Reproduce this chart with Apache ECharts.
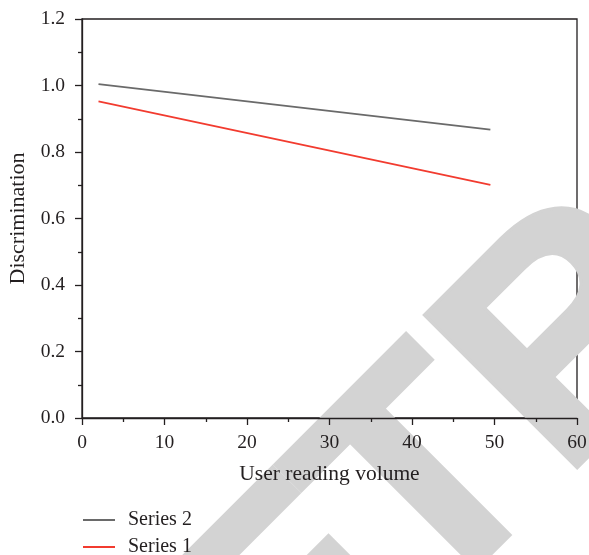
<!DOCTYPE html>
<html>
<head>
<meta charset="utf-8">
<script src="https://cdn.jsdelivr.net/npm/echarts@6/dist/echarts.min.js"></script>
<style>
html,body{margin:0;padding:0;background:#fff;}
#chart{width:589px;height:555px;}
</style>
</head>
<body>
<div id="chart"></div>
<script>
// ---- data ----
const xValues = [2, 49.5];
const series1Values = [0.952, 0.701];
const series2Values = [1.004, 0.867];
const legendOrder = ['Series 2', 'Series 1'];
const xTitle = 'User reading volume';
const yTitle = 'Discrimination';
const watermarkLetters = ['R', 'E', 'T', 'R', 'A', 'C', 'T', 'E', 'D'];
const watermarkOffsets = [-551, -327, -136, 58, 282, 506, 730, 919, 1126];

const serif = '"Liberation Serif", "DejaVu Serif", serif';
const ink = '#231f20';
const wmSize = 310;

const chart = echarts.init(document.getElementById('chart'), null, {renderer: 'canvas'});

const wmChildren = watermarkLetters.map((ch, i) => ({
  type: 'text',
  x: watermarkOffsets[i],
  y: -0.2757 * wmSize,
  silent: true,
  style: {
    text: ch,
    font: 'bold ' + wmSize + 'px "Liberation Sans", Arial, sans-serif',
    fill: '#d3d3d3',
    stroke: '#d3d3d3',
    lineWidth: 6,
    align: 'left',
    verticalAlign: 'middle',
    textAlign: 'left',
    textVerticalAlign: 'middle'
  }
}));

const axisCommon = {
  axisLine: {show: true, onZero: false, lineStyle: {color: ink, width: 1.3}},
  axisTick: {show: true, inside: false, length: 7, lineStyle: {color: ink, width: 1.3}},
  minorTick: {show: true, splitNumber: 2, length: 4, lineStyle: {color: ink, width: 1.3}},
  splitLine: {show: false}
};

const legendBase = {
  orient: 'vertical', left: 83, padding: 0,
  itemWidth: 32, itemHeight: 2, icon: 'rect',
  textStyle: {fontFamily: serif, fontSize: 20, color: ink, padding: [0, 0, 0, 8]}
};

const option = {
  animation: false,
  backgroundColor: '#ffffff',
  graphic: [{
    type: 'group',
    x: 521.5,
    y: 521.5,
    rotation: Math.PI / 4,
    z: -100,
    silent: true,
    children: wmChildren
  }],
  grid: {
    left: 82, top: 19, width: 495, height: 399,
    containLabel: false,
    outerBoundsMode: 'none',
    show: true, borderColor: ink, borderWidth: 1.3, backgroundColor: 'transparent'
  },
  legend: [
    Object.assign({}, legendBase, {top: 510, data: [legendOrder[0]]}),
    Object.assign({}, legendBase, {top: 537, data: [legendOrder[1]]})
  ],
  xAxis: Object.assign({
    type: 'value', min: 0, max: 60, interval: 10,
    name: xTitle, nameLocation: 'middle', nameGap: 45,
    nameTextStyle: {fontFamily: serif, fontSize: 21.5, color: ink},
    axisLabel: {fontFamily: serif, fontSize: 19.5, color: ink, margin: 15}
  }, axisCommon),
  yAxis: Object.assign({
    type: 'value', min: 0, max: 1.2, interval: 0.2,
    name: yTitle, nameLocation: 'middle', nameGap: 53,
    nameTextStyle: {fontFamily: serif, fontSize: 22, color: ink},
    axisLabel: {fontFamily: serif, fontSize: 19.5, color: ink, margin: 17,
      formatter: v => v.toFixed(1)}
  }, axisCommon),
  series: [
    {
      name: 'Series 2', type: 'line', symbol: 'none',
      data: xValues.map((x, i) => [x, series2Values[i]]),
      lineStyle: {color: '#6a6a6a', width: 1.8}, itemStyle: {color: '#6a6a6a'}
    },
    {
      name: 'Series 1', type: 'line', symbol: 'none',
      data: xValues.map((x, i) => [x, series1Values[i]]),
      lineStyle: {color: '#f23b2f', width: 1.8}, itemStyle: {color: '#f23b2f'}
    }
  ]
};
chart.setOption(option);
</script>
</body>
</html>
